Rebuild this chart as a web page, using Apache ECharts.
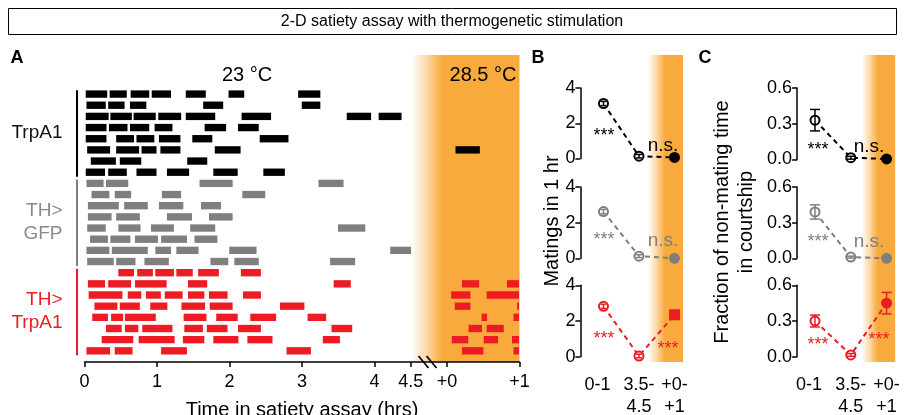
<!DOCTYPE html>
<html><head><meta charset="utf-8">
<script src="https://cdn.jsdelivr.net/npm/echarts@6/dist/echarts.min.js"></script>
<style>html,body{margin:0;padding:0;background:#fff}#c{width:905px;height:415px}</style>
</head><body><div id="c"></div>
<script>
// ---------------- Panel A: mating bouts (start, end in hours; after the break +0..+1 is 5..6) -----------
const trpa1Bouts = [
  [[0.01,0.32],[0.34,0.59],[0.63,0.90],[0.92,1.20],[1.39,1.68],[1.98,2.21],[2.94,3.26]],
  [[0.02,0.30],[0.32,0.56],[0.62,0.86],[1.63,1.92],[2.99,3.26]],
  [[0.01,0.34],[0.35,0.66],[0.67,0.99],[1.01,1.34],[1.39,1.81],[2.16,2.58],[3.61,3.96],[4.05,4.38]],
  [[0.01,0.31],[0.33,0.60],[0.62,0.90],[0.96,1.22],[1.65,1.96],[2.11,2.41]],
  [[0.01,0.31],[0.43,0.69],[0.71,0.97],[1.02,1.33],[1.48,1.77],[2.41,2.82]],
  [[0.03,0.36],[0.43,0.76],[0.78,1.00],[1.04,1.33],[1.79,2.16],[5.11,5.46]],
  [[0.08,0.44],[0.48,0.79],[1.41,1.70]],
  [[0.01,0.29],[0.32,0.59],[0.71,1.00],[1.13,1.45],[1.77,2.12],[2.46,2.77]]
];
const gfpBouts = [
  [[0.02,0.27],[0.29,0.61],[1.58,2.05],[3.22,3.58]],
  [[0.09,0.35],[0.41,0.65],[1.06,1.34],[2.17,2.50]],
  [[0.04,0.48],[0.54,0.88],[1.02,1.37],[1.60,1.89]],
  [[0.04,0.38],[0.43,0.77],[1.13,1.49],[1.71,2.05]],
  [[0.03,0.30],[0.46,0.78],[0.91,1.24],[1.45,1.81],[3.49,3.88]],
  [[0.07,0.33],[0.35,0.64],[0.69,1.02],[1.05,1.42],[1.51,1.84]],
  [[0.02,0.35],[0.37,0.88],[0.97,1.20],[1.26,1.58],[1.99,2.38],[4.21,4.51]],
  [[0.03,0.41],[0.43,0.71],[0.82,1.17],[1.73,1.99],[2.06,2.41],[3.38,3.74]]
];
const thTrpa1Bouts = [
  [[0.46,0.69],[0.72,0.95],[0.97,1.24],[1.26,1.50],[1.56,1.86],[2.15,2.44]],
  [[0.04,0.29],[0.32,0.65],[0.69,1.14],[1.42,1.70],[3.43,3.68],[5.20,5.45],[5.82,6.0]],
  [[0.05,0.53],[0.59,0.79],[0.84,1.06],[1.10,1.36],[1.42,1.66],[1.71,1.98],[2.18,2.44],[5.05,5.33],[5.54,6.0]],
  [[0.13,0.46],[0.48,0.77],[0.90,1.15],[1.33,1.67],[1.72,2.05],[2.69,3.04],[5.10,5.33],[5.96,6.0]],
  [[0.10,0.33],[0.36,0.54],[0.55,0.99],[1.36,1.69],[1.81,2.12],[2.28,2.65],[3.07,3.34],[5.47,5.56],[5.91,6.0]],
  [[0.29,0.52],[0.55,0.75],[0.79,1.22],[1.37,1.64],[1.68,1.98],[2.11,2.44],[3.40,3.70],[5.29,5.49],[5.54,5.79]],
  [[0.23,0.68],[0.74,1.25],[1.35,1.66],[1.77,2.13],[2.24,2.60],[3.28,3.53],[5.06,5.30],[5.50,5.71],[5.89,6.0]],
  [[0.02,0.36],[0.41,0.67],[1.05,1.42],[2.78,3.13],[5.20,5.51],[5.91,6.0]]
];
const groupNames = [['TrpA1'], ['TH>', 'GFP'], ['TH>', 'TrpA1']];
const timeTickValues = [0, 1, 2, 3, 4, 4.5, 5, 6];
const timeTickLabels = ['0', '1', '2', '3', '4', '4.5', '+0', '+1'];
const heatWindowA = [4.5, 4.94, 6];      // fade start, full, end (time axis)

// ---------------- Panels B / C -----------
const periodLabels = ['0-1', '3.5-\n4.5', '+0-\n+1'];
const heatWindowB = [1.25, 1.73, 2.24];  // fade start, full, end (period axis)
const heatWindowC = [1.30, 1.76, 2.24];
const matingsTrpa1 = [3.12, 0.13, 0.06];
const matingsTrpa1Err = [0.12, 0.1, 0.06];
const matingsGfp = [2.62, 0.12, 0.0];
const matingsGfpErr = [0.12, 0.08, 0.0];
const matingsThTrpa1 = [2.82, 0.04, 2.35];
const matingsThTrpa1Err = [0.12, 0.1, 0.15];
const courtTrpa1 = [0.33, 0.015, 0.005];
const courtTrpa1Err = [0.09, 0.012, 0.0];
const courtGfp = [0.39, 0.01, 0.0];
const courtGfpErr = [0.06, 0.008, 0.0];
const courtThTrpa1 = [0.30, 0.015, 0.45];
const courtThTrpa1Err = [0.05, 0.012, 0.09];

// ---------------- styles -----------
const FONT = '"Liberation Sans", Arial, Helvetica, sans-serif';
const BLACK = '#000000', GREY = '#7f7f7f', RED = '#ED1C24', ORANGE = '#F8AA3C';
const groupColors = [BLACK, GREY, RED];
const groupTextColors = ['#111111', '#8a8a8a', '#ED1C24'];

function boutData(rows, offset) {
  const out = [];
  rows.forEach((r, i) => r.forEach(b => out.push([b[0], b[1], offset + i])));
  return out;
}
function boutRender(color) {
  return function (params, api) {
    const a = api.coord([api.value(0), api.value(2)]);
    const b = api.coord([api.value(1), api.value(2)]);
    const h = api.size([0, 1])[1] * 0.66;
    return { type: 'rect', shape: { x: a[0] + 0.5, y: a[1] - h / 2, width: Math.max(b[0] - a[0] - 1, 1), height: h },
      style: { fill: color } };
  };
}
function bandRender(params, api) {
  const x0 = api.value(0), x1 = api.value(1), x2 = api.value(2);
  const pa = api.coord([x0, api.value(3)]), pb = api.coord([x2, api.value(4)]);
  const f = (x1 - x0) / (x2 - x0);
  const y = Math.min(pa[1], pb[1]), h = Math.abs(pb[1] - pa[1]);
  return { type: 'rect', shape: { x: pa[0], y: y, width: pb[0] - pa[0], height: h },
    style: { fill: new echarts.graphic.LinearGradient(0, 0, 1, 0, [
      { offset: 0, color: 'rgba(248,170,60,0)' },
      { offset: f * 0.5, color: 'rgba(248,170,60,0.45)' },
      { offset: f, color: ORANGE }, { offset: 1, color: ORANGE }]) } };
}
function errRender(color, cap) {
  return function (params, api) {
    const x = api.value(0), y = api.value(1), e = api.value(2);
    if (!e) return null;
    const hi = api.coord([x, y + e]), lo = api.coord([x, y - e]);
    const st = { stroke: color, lineWidth: 1.5 };
    return { type: 'group', children: [
      { type: 'line', shape: { x1: hi[0], y1: hi[1], x2: lo[0], y2: lo[1] }, style: st },
      { type: 'line', shape: { x1: hi[0] - cap, y1: hi[1], x2: hi[0] + cap, y2: hi[1] }, style: st },
      { type: 'line', shape: { x1: lo[0] - cap, y1: lo[1], x2: lo[0] + cap, y2: lo[1] }, style: st }
    ] };
  };
}
function groupRender(params, api) {
  const g = params.dataIndex;
  const r0 = api.value(0), r1 = api.value(1);
  const top = api.coord([0, r0 - 0.35]), bot = api.coord([0, r1 + 0.4]);
  const mid = api.coord([0, (r0 + r1) / 2]);
  const x = top[0] - 7.5;
  return { type: 'group', children: [
    { type: 'line', shape: { x1: x, y1: top[1], x2: x, y2: bot[1] }, style: { stroke: groupColors[g], lineWidth: 2 } },
    { type: 'text', x: top[0] - 22, y: mid[1], style: { text: groupNames[g].join('\n'), fill: groupTextColors[g],
      font: '19px ' + FONT, align: 'right', verticalAlign: 'middle', lineHeight: 23 } }
  ] };
}

const gridBase = { containLabel: false, outerBoundsMode: 'none' };
const grids = [
  { left: 84.5, top: 55, width: 435, height: 307 },          // 0 A
  { left: 580.4, top: 55, width: 108.3, height: 307 },        // 1 B band
  { left: 580.4, top: 88, width: 108.3, height: 70.5 },       // 2 B top
  { left: 580.4, top: 187, width: 108.3, height: 71.3 },      // 3 B mid
  { left: 580.4, top: 285.3, width: 108.3, height: 71.4 },    // 4 B bottom
  { left: 797.1, top: 55, width: 103.8, height: 307 },        // 5 C band
  { left: 797.1, top: 88, width: 103.8, height: 71.5 },       // 6 C top
  { left: 797.1, top: 187, width: 103.8, height: 71.3 },      // 7 C mid
  { left: 797.1, top: 285.3, width: 103.8, height: 71.4 }     // 8 C bottom
].map(g => Object.assign({}, gridBase, g));
const lblTxt = { color: '#000', fontSize: 18, fontFamily: FONT };
function periodAxis(gi, min, max, showLabels) {
  return { type: 'value', gridIndex: gi, min: min, max: max, show: showLabels,
    axisLine: { show: false, onZero: false }, axisTick: { show: false }, splitLine: { show: false },
    axisLabel: { show: showLabels, customValues: [0, 1, 2], margin: 17, lineHeight: 22,
      color: '#000', fontSize: 18, fontFamily: FONT,
      formatter: v => v === 0 ? '{s|' + periodLabels[0] + '}' : periodLabels[v],
      rich: { s: { fontSize: 18, fontFamily: FONT, color: '#000', padding: [0, 12, 0, 0] } } } };
}
function statAxis(gi, max, interval, fmt) {
  return { type: 'value', gridIndex: gi, min: 0, max: max, interval: interval,
    axisLine: { show: true, onZero: false, lineStyle: { color: '#000', width: 1.5 } },
    axisTick: { show: true, length: 5, lineStyle: { color: '#000', width: 1.5 } },
    splitLine: { show: false },
    axisLabel: Object.assign({ margin: 5, formatter: fmt }, lblTxt) };
}
const xAxes = [
  { type: 'value', gridIndex: 0, min: 0, max: 6,
    axisLine: { onZero: false, lineStyle: { color: '#000', width: 1.5 } },
    axisTick: { customValues: timeTickValues, length: 5, lineStyle: { color: '#000', width: 1.5 } },
    axisLabel: { customValues: timeTickValues, margin: 11, color: '#000', fontSize: 18, fontFamily: FONT,
      formatter: v => timeTickLabels[timeTickValues.indexOf(v)] },
    splitLine: { show: false },
    name: 'Time in satiety assay (hrs)', nameLocation: 'middle', nameGap: 38,
    nameTextStyle: { color: '#000', fontSize: 20, fontFamily: FONT } },
  periodAxis(1, -0.65, 2.4, false), periodAxis(2, -0.65, 2.4, false), periodAxis(3, -0.65, 2.4, false),
  periodAxis(4, -0.65, 2.4, true),
  periodAxis(5, -0.5, 2.4, false), periodAxis(6, -0.5, 2.4, false), periodAxis(7, -0.5, 2.4, false),
  periodAxis(8, -0.5, 2.4, true)
];
const f0 = v => String(v), f1 = v => v.toFixed(1);
const yAxes = [
  { type: 'value', gridIndex: 0, inverse: true, min: -3.5, max: 24, show: false },
  { type: 'value', gridIndex: 1, min: 0, max: 1, show: false },
  statAxis(2, 4, 2, f0), statAxis(3, 4, 2, f0), statAxis(4, 4, 2, f0),
  { type: 'value', gridIndex: 5, min: 0, max: 1, show: false },
  statAxis(6, 0.6, 0.3, f1), statAxis(7, 0.6, 0.3, f1), statAxis(8, 0.6, 0.3, f1)
];

const series = [
  { type: 'custom', xAxisIndex: 0, yAxisIndex: 0, data: [heatWindowA.concat([-3.5, 24])], renderItem: bandRender, z: 0, silent: true },
  { type: 'custom', xAxisIndex: 1, yAxisIndex: 1, data: [heatWindowB.concat([1, 0])], renderItem: bandRender, z: 0, silent: true },
  { type: 'custom', xAxisIndex: 5, yAxisIndex: 5, data: [heatWindowC.concat([1, 0])], renderItem: bandRender, z: 0, silent: true },
  { type: 'custom', xAxisIndex: 0, yAxisIndex: 0, data: boutData(trpa1Bouts, 0), renderItem: boutRender(BLACK), encode: { x: [0, 1], y: 2 }, z: 2 },
  { type: 'custom', xAxisIndex: 0, yAxisIndex: 0, data: boutData(gfpBouts, 8), renderItem: boutRender(GREY), encode: { x: [0, 1], y: 2 }, z: 2 },
  { type: 'custom', xAxisIndex: 0, yAxisIndex: 0, data: boutData(thTrpa1Bouts, 16), renderItem: boutRender(RED), encode: { x: [0, 1], y: 2 }, z: 2 },
  { type: 'custom', xAxisIndex: 0, yAxisIndex: 0, data: [[0, 7], [8, 15], [16, 23]], renderItem: groupRender, clip: false, z: 2, encode: { y: [0, 1] } }
];
function addStat(ax, vals, errs, color, lastSym, cap) {
  series.push({ type: 'line', xAxisIndex: ax, yAxisIndex: ax, z: 3,
    data: vals.map((v, i) => ({ value: [i, v], symbol: i < 2 ? 'emptyCircle' : lastSym })),
    symbolSize: 9, showAllSymbol: true, clip: false,
    lineStyle: { color: color, width: 2, type: [5, 4] },
    itemStyle: { color: color, borderColor: color, borderWidth: 2 } });
  series.push({ type: 'custom', xAxisIndex: ax, yAxisIndex: ax, z: 4, clip: false,
    data: vals.map((v, i) => [i, v, errs[i]]), renderItem: errRender(color, cap) });
}
addStat(2, matingsTrpa1, matingsTrpa1Err, BLACK, 'circle', 3);
addStat(3, matingsGfp, matingsGfpErr, GREY, 'circle', 3);
addStat(4, matingsThTrpa1, matingsThTrpa1Err, RED, 'rect', 3);
addStat(6, courtTrpa1, courtTrpa1Err, BLACK, 'circle', 5);
addStat(7, courtGfp, courtGfpErr, GREY, 'circle', 5);
addStat(8, courtThTrpa1, courtThTrpa1Err, RED, 'circle', 5);

function txt(x, y, s, size, color, extra) {
  return Object.assign({ type: 'text', x: x, y: y, z: 10,
    style: Object.assign({ text: s, fill: color, font: size + 'px ' + FONT, align: 'center', verticalAlign: 'middle' }, extra || {}) });
}
const graphics = [
  { type: 'rect', shape: { x: 8.5, y: 8.5, width: 888, height: 26 }, style: { fill: 'none', stroke: '#000', lineWidth: 1 } },
  txt(452, 22, '2-D satiety assay with thermogenetic stimulation', 16, '#000'),
  txt(17, 58, 'A', 18, '#000', { font: 'bold 18px ' + FONT }),
  txt(538, 58, 'B', 18, '#000', { font: 'bold 18px ' + FONT }),
  txt(705, 58, 'C', 18, '#000', { font: 'bold 18px ' + FONT }),
  txt(247, 75, '23 °C', 20, '#000'),
  txt(483, 75, '28.5 °C', 20, '#000'),
  txt(552, 221, 'Matings in 1 hr', 20, '#000', {}),
  txt(722, 222, 'Fraction of non-mating time', 20, '#000', {}),
  txt(746, 222, 'in courtship', 20, '#000', {}),
  txt(604, 136, '***', 18, BLACK), txt(663, 146, 'n.s.', 19, BLACK),
  txt(604, 240, '***', 18, GREY), txt(663, 241, 'n.s.', 19, GREY),
  txt(604, 339, '***', 18, RED), txt(668, 349, '***', 18, RED),
  txt(818, 150, '***', 18, BLACK), txt(869, 147, 'n.s.', 19, BLACK),
  txt(818, 242, '***', 18, GREY), txt(869, 242, 'n.s.', 19, GREY),
  txt(818, 345, '***', 18, RED), txt(879, 340, '***', 18, RED),
  { type: 'line', z: 10, shape: { x1: 418.5, y1: 356, x2: 428.5, y2: 368 }, style: { stroke: '#000', lineWidth: 1.8 } },
  { type: 'line', z: 10, shape: { x1: 426.5, y1: 356, x2: 436.5, y2: 368 }, style: { stroke: '#000', lineWidth: 1.8 } }
];
graphics[7].rotation = Math.PI / 2; graphics[8].rotation = Math.PI / 2; graphics[9].rotation = Math.PI / 2;

const chart = echarts.init(document.getElementById('c'), null, { renderer: 'canvas' });
chart.setOption({
  animation: false, backgroundColor: '#fff',
  textStyle: { fontFamily: FONT },
  grid: grids, xAxis: xAxes, yAxis: yAxes, series: series, graphic: graphics
});
</script></body></html>
